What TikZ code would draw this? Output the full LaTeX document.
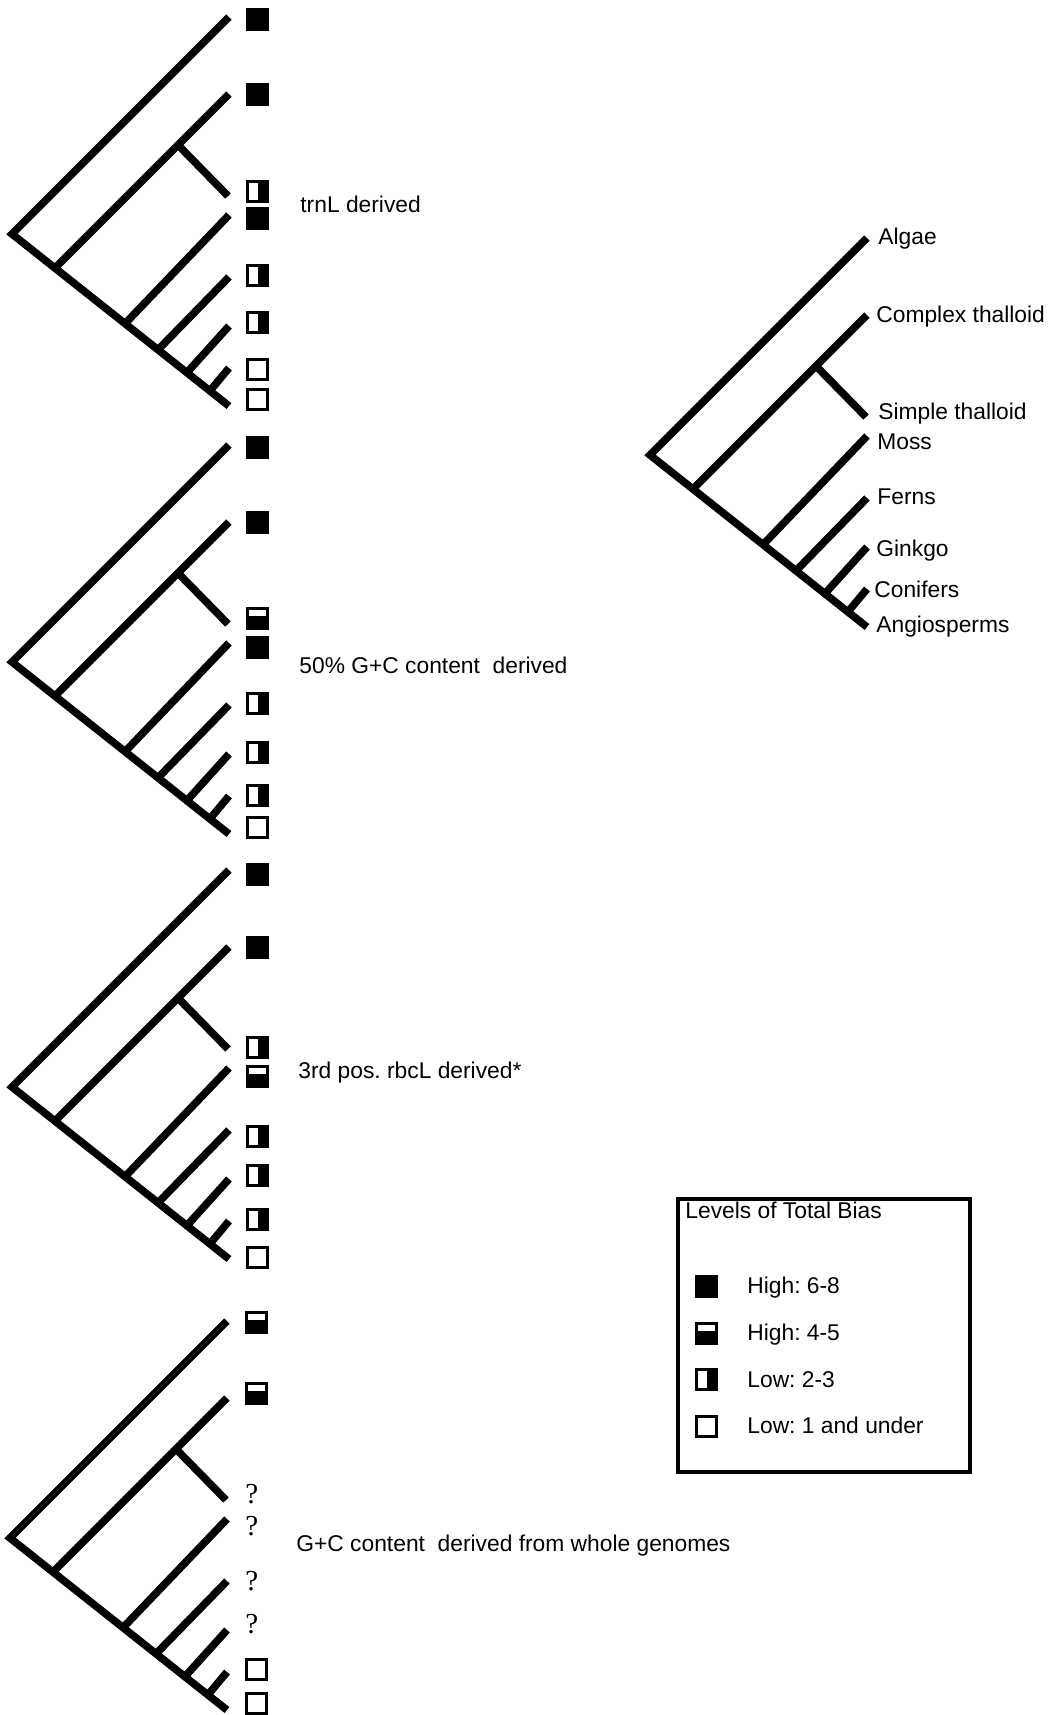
\documentclass[tikz,border=0pt]{standalone}
\usepackage{fontspec}
\setmainfont{Liberation Sans}
\newfontfamily\qmarkfont{Liberation Serif}
\usetikzlibrary{calc}
\frenchspacing

\tikzset{
  branch/.style={line width=3.8pt, line join=miter},
  mk/.style={rectangle, draw, line width=1.5pt, minimum size=10pt, inner sep=0pt},
  mkfull/.style={mk, fill=black},
  mkhigh/.style={mk, path picture={\fill (path picture bounding box.south west) rectangle ($(path picture bounding box.south east)!0.58!(path picture bounding box.north east)$);}},
  mklow/.style={mk, path picture={\fill ($(path picture bounding box.north west)!0.57!(path picture bounding box.north east)$) rectangle (path picture bounding box.south east);}},
  mkempty/.style={mk},
  lbl/.style={anchor=base west, inner sep=0pt, font=\fontsize{11.4pt}{13pt}\selectfont},
  qm/.style={anchor=base west, inner sep=0pt, font=\qmarkfont\fontsize{14.5pt}{16pt}\selectfont},
  legendbox/.style={rectangle, draw, line width=2pt, minimum width=146pt, minimum height=136.5pt, inner sep=0pt},
}

% One cladogram: #1 name prefix, (#2,#3) shift in pixel units
\newcommand\phylotree[3]{%
  \begin{scope}[shift={(#2,#3)}]
    \coordinate (#1root) at (12,234);
    \coordinate (#1tAl) at (229,17);
    \coordinate (#1tCo) at (229,94);
    \coordinate (#1tSi) at (228,196);
    \coordinate (#1tMo) at (229,215);
    \coordinate (#1tFe) at (229,277);
    \coordinate (#1tGi) at (229,326);
    \coordinate (#1tCn) at (229,368);
    \coordinate (#1tAn) at (229,406);
  \end{scope}
  \coordinate (#1nTh) at ($(#1root)!0.198!(#1tAn)$);
  \coordinate (#1nSi) at ($(#1nTh)!0.707!(#1tCo)$);
  \coordinate (#1bMo) at ($(#1root)!0.521!(#1tAn)$);
  \coordinate (#1bFe) at ($(#1root)!0.673!(#1tAn)$);
  \coordinate (#1bGi) at ($(#1root)!0.806!(#1tAn)$);
  \coordinate (#1bCn) at ($(#1root)!0.912!(#1tAn)$);
  \draw[branch] (#1tAl) -- (#1root) -- (#1tAn);
  \draw[branch] (#1nTh) -- (#1tCo);
  \draw[branch] (#1nSi) -- (#1tSi);
  \draw[branch] (#1bMo) -- (#1tMo);
  \draw[branch] (#1bFe) -- (#1tFe);
  \draw[branch] (#1bGi) -- (#1tGi);
  \draw[branch] (#1bCn) -- (#1tCn);
}

\begin{document}
\begin{tikzpicture}[x=0.5pt, y=-0.5pt]
\useasboundingbox (0,0) rectangle (1048,1715);

% ---- four scored cladograms on the left ----
\phylotree{a}{0}{0}
\phylotree{b}{0}{428}
\phylotree{c}{0}{853}
\phylotree{d}{-2}{1304}

% scores, trnL
\node[mkfull]  (a1) at (257,19) {};
\node[mkfull]  (a2) at (257,94) {};
\node[mklow]   (a3) at (257,191) {};
\node[mkfull]  (a4) at (257,218) {};
\node[mklow]   (a5) at (257,275) {};
\node[mklow]   (a6) at (257,322) {};
\node[mkempty] (a7) at (257,369) {};
\node[mkempty] (a8) at (257,399) {};
\node[lbl] (acap) at (300,212) {trnL derived};

% scores, 50% G+C
\node[mkfull]  (b1) at (257,447) {};
\node[mkfull]  (b2) at (257,522) {};
\node[mkhigh]  (b3) at (257,618) {};
\node[mkfull]  (b4) at (257,647) {};
\node[mklow]   (b5) at (257,703) {};
\node[mklow]   (b6) at (257,752) {};
\node[mklow]   (b7) at (257,795) {};
\node[mkempty] (b8) at (257,827) {};
\node[lbl] (bcap) at (299,673) {50\% G+C content \ derived};

% scores, 3rd position rbcL
\node[mkfull]  (c1) at (257,874) {};
\node[mkfull]  (c2) at (257,947) {};
\node[mklow]   (c3) at (257,1047) {};
\node[mkhigh]  (c4) at (257,1076) {};
\node[mklow]   (c5) at (257,1136) {};
\node[mklow]   (c6) at (257,1175) {};
\node[mklow]   (c7) at (257,1219) {};
\node[mkempty] (c8) at (257,1257) {};
\node[lbl] (ccap) at (298,1078) {3rd pos. rbcL derived*};

% scores, whole genomes
\node[mkhigh]  (d1) at (256,1322) {};
\node[mkhigh]  (d2) at (256,1393) {};
\node[qm] (d3) at (245,1503) {?};
\node[qm] (d4) at (245,1535) {?};
\node[qm] (d5) at (245,1590) {?};
\node[qm] (d6) at (245,1633) {?};
\node[mkempty] (d7) at (256,1669) {};
\node[mkempty] (d8) at (256,1703) {};
\node[lbl] (dcap) at (296,1551) {G+C content \ derived from whole genomes};

% ---- named cladogram on the right ----
\phylotree{r}{638}{221}
\node[lbl] (rAl) at (878,244) {Algae};
\node[lbl] (rCo) at (876,322) {Complex thalloid};
\node[lbl] (rSi) at (878,419) {Simple thalloid};
\node[lbl] (rMo) at (877,449) {Moss};
\node[lbl] (rFe) at (877,504) {Ferns};
\node[lbl] (rGi) at (876,556) {Ginkgo};
\node[lbl] (rCn) at (874,597) {Conifers};
\node[lbl] (rAn) at (876,632) {Angiosperms};

% ---- legend ----
\node[legendbox] (legend) at (824,1335.5) {};
\node[lbl] (legtitle) at (685,1218) {Levels of Total Bias};
\node[mkfull]  (k1) at (706,1286) {};
\node[mkhigh]  (k2) at (706,1333) {};
\node[mklow]   (k3) at (706,1379) {};
\node[mkempty] (k4) at (706,1426) {};
\node[lbl] (k1t) at (747,1293) {High: 6-8};
\node[lbl] (k2t) at (747,1340) {High: 4-5};
\node[lbl] (k3t) at (747,1387) {Low: 2-3};
\node[lbl] (k4t) at (747,1433) {Low: 1 and under};
\end{tikzpicture}
\end{document}
